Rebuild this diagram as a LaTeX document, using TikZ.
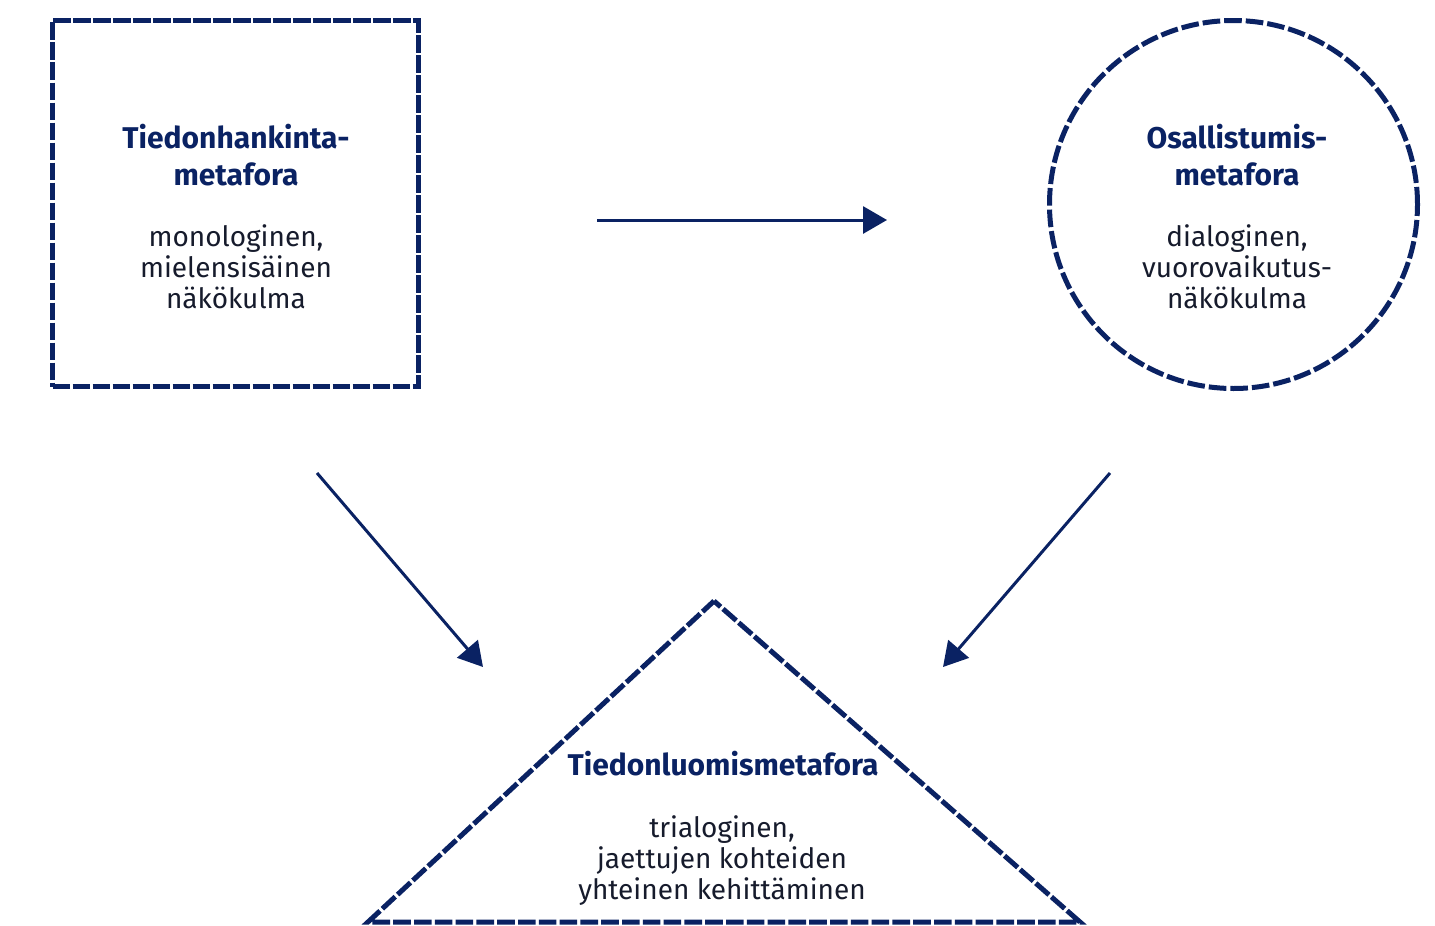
\documentclass[tikz,border=0pt]{standalone}
\usepackage{fontspec}
\setmainfont{Fira Sans}
\usetikzlibrary{arrows.meta}
\definecolor{navy}{HTML}{0A2263}
\definecolor{ink}{HTML}{161B2C}

\begin{document}
\begin{tikzpicture}[x=0.5pt,y=-0.5pt,
  frame/.style={draw=navy, line width=2.7pt, dash pattern=on 8.6pt off 1.4pt, inner sep=0pt},
  link/.style={draw=navy, line width=1.5pt, -{Triangle[length=12pt,width=13.5pt]}},
  title/.style={text=navy, font=\fontsize{15}{18.5}\selectfont\bfseries, align=center, anchor=base, inner sep=0pt},
  body/.style={text=ink, font=\fontsize{14}{15.5}\selectfont, align=center, anchor=base, inner sep=0pt}]
  \useasboundingbox (0,0) rectangle (1435,926);

  % the three metaphors
  \node[frame, rectangle, minimum size=183pt] (acq) at (235.5,203.5) {};
  \node[frame, circle, minimum size=184pt, line width=2.5pt, dash pattern=on 8.8pt off 2pt] (part) at (1233.5,204.5) {};
  \draw[navy, line width=2.5pt, dash pattern=on 8.8pt off 1.6pt, dash phase=4.4pt, line join=miter]
    (714,601) coordinate (tt) -- (1080,922) coordinate (tr) -- (368,922) coordinate (tl) -- cycle;

  % texts (the base anchor sits on the last line)
  \node[title] (acqT) at (236,185) {Tiedonhankinta-\\metafora};
  \node[body] (acqB) at (236,308) {monologinen,\\mielensisäinen\\näkökulma};
  \node[title] (partT) at (1237,185) {Osallistumis-\\metafora};
  \node[body] (partB) at (1237,308) {dialoginen,\\vuorovaikutus-\\näkökulma};
  \node[title] (creT) at (723,775) {Tiedonluomismetafora};
  \node[body] (creB) at (722,899) {trialoginen,\\jaettujen kohteiden\\yhteinen kehittäminen};

  % arrows between the metaphors
  \coordinate (h1) at (597,220);
  \coordinate (h2) at (887,220);
  \coordinate (l1) at (317,473);
  \coordinate (l2) at (483,667);
  \coordinate (r1) at (1110,473);
  \coordinate (r2) at (943,667);
  \draw[link] (h1) -- (h2);
  \draw[link] (l1) -- (l2);
  \draw[link] (r1) -- (r2);
\end{tikzpicture}
\end{document}
